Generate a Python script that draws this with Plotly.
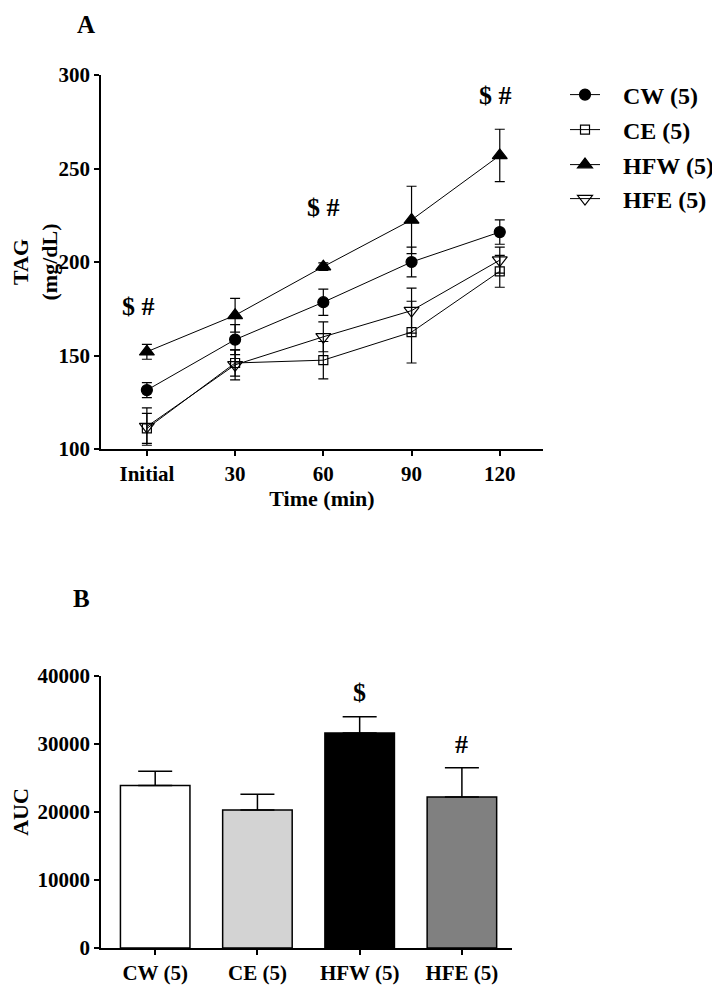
import plotly.graph_objects as go

# ---------------- Data ----------------
time_labels = ["Initial", "30", "60", "90", "120"]
x_pos = [0, 1, 2, 3, 4]

cw = [131.5, 158.5, 178.5, 200, 216]
cw_err = [4, 8, 7, 8, 6.5]
ce = [111, 146, 147.5, 162.5, 195]
ce_err = [8, 7, 10, 16.5, 8.5]
hfw = [152, 171.5, 197.5, 222.5, 257]
hfw_err = [4, 9, 2, 18, 14]
hfe = [112, 145, 160, 174, 201]
hfe_err = [10, 8, 8, 12, 7]

groups = ["CW (5)", "CE (5)", "HFW (5)", "HFE (5)"]
auc = [23900, 20300, 31600, 22200]
auc_err = [2100, 2300, 2400, 4300]
bar_colors = ["#ffffff", "#d3d3d3", "#000000", "#808080"]

sig_a_x = [-0.1, 2.0, 3.95]
sig_a_y = [176, 229, 289]
sig_a_text = ["$ #", "$ #", "$ #"]

sig_b_x = [2, 3]
sig_b_y = [37600, 30000]
sig_b_text = ["$", "#"]

FONT = "Liberation Serif"
# page body has an 8px margin; figure sized to fill the rest of the window
OFF = 8
W, H = 720 - OFF, 986 - OFF


def px(xp):
    return (xp - OFF) / W


def py(yp):
    return 1 - (yp - OFF) / H


fig = go.Figure()

series = [
    ("CW (5)", cw, cw_err, "circle", "black", 11),
    ("CE (5)", ce, ce_err, "square-open", "black", 9),
    ("HFW (5)", hfw, hfw_err, "triangle-up", "black", 13),
    ("HFE (5)", hfe, hfe_err, "triangle-down-open", "black", 13),
]
legend_names = ["legend", "legend2", "legend3", "legend4"]
for (name, ys, err, sym, col, sz), lg in zip(series, legend_names):
    fig.add_trace(go.Scatter(
        x=x_pos, y=ys, name="&nbsp;&nbsp;&nbsp;<b>%s</b>" % name,
        mode="lines+markers",
        line=dict(color="black", width=1),
        marker=dict(symbol=sym, size=sz, color=col,
                    line=dict(color="black", width=1.2)),
        error_y=dict(type="data", array=err, visible=True,
                     color="black", thickness=1.2, width=5),
        xaxis="x", yaxis="y", legend=lg,
    ))

fig.add_trace(go.Bar(
    x=[0, 1, 2, 3], y=auc, width=0.68,
    marker=dict(color=bar_colors, line=dict(color="black", width=1.5)),
    error_y=dict(type="data", array=auc_err, arrayminus=[0, 0, 0, 0],
                 symmetric=False, visible=True, color="black",
                 thickness=1.5, width=17),
    xaxis="x2", yaxis="y2", showlegend=False,
))

axis_common = dict(
    showgrid=False, zeroline=False, showline=True, linecolor="black",
    linewidth=1.5, ticks="outside", tickcolor="black", ticklen=5,
    tickwidth=1.5, automargin=False,
    tickfont=dict(family=FONT, size=21, color="black"),
)

fig.update_layout(
    width=W, height=H,
    margin=dict(l=0, r=0, t=0, b=0),
    paper_bgcolor="white", plot_bgcolor="white",
    font=dict(family=FONT, color="black"),
    xaxis=dict(domain=[px(101), px(543)], range=[-0.52, 4.49],
               tickvals=x_pos, ticktext=["<b>%s</b>" % t for t in time_labels],
               title=dict(text="<b>Time (min)</b>",
                          font=dict(family=FONT, size=22), standoff=6),
               anchor="y", **axis_common),
    yaxis=dict(domain=[py(449), py(75)], range=[100, 300],
               tickvals=[100, 150, 200, 250, 300],
               ticktext=["<b>%d</b>" % v for v in [100, 150, 200, 250, 300]],
               title=dict(text="<b>TAG<br>(mg/dL)</b>",
                          font=dict(family=FONT, size=22), standoff=8),
               anchor="x", **axis_common),
    xaxis2=dict(domain=[px(101), px(512)], range=[-0.53, 3.49],
                tickvals=[0, 1, 2, 3],
                ticktext=["<b>%s</b>" % g for g in groups],
                anchor="y2", **axis_common),
    yaxis2=dict(domain=[py(948), py(676)], range=[0, 40000],
                tickvals=[0, 10000, 20000, 30000, 40000],
                ticktext=["<b>%d</b>" % v for v in [0, 10000, 20000, 30000, 40000]],
                title=dict(text="<b>AUC</b>",
                           font=dict(family=FONT, size=22), standoff=10),
                anchor="x2", **axis_common),
)

# Legends, one per entry so spacing matches the reference
leg_rows = [95, 130, 165, 199]
for lg, row in zip(legend_names, leg_rows):
    fig.update_layout({lg: dict(
        x=px(565), y=py(row), xanchor="left", yanchor="middle",
        bgcolor="rgba(0,0,0,0)", borderwidth=0,
        font=dict(family=FONT, size=24, color="black"),
        itemwidth=30,
    )})

# Significance markers
for xv, yv, t in zip(sig_a_x, sig_a_y, sig_a_text):
    fig.add_annotation(x=xv, y=yv, xref="x", yref="y", text="<b>%s</b>" % t,
                       showarrow=False, xanchor="center", yanchor="middle",
                       font=dict(family=FONT, size=26))
for xv, yv, t in zip(sig_b_x, sig_b_y, sig_b_text):
    fig.add_annotation(x=xv, y=yv, xref="x2", yref="y2", text="<b>%s</b>" % t,
                       showarrow=False, xanchor="center", yanchor="middle",
                       font=dict(family=FONT, size=26))

# Panel labels
fig.add_annotation(x=px(86), y=py(25), xref="paper", yref="paper",
                   text="<b>A</b>", showarrow=False,
                   xanchor="center", yanchor="middle",
                   font=dict(family=FONT, size=25))
fig.add_annotation(x=px(81), y=py(598), xref="paper", yref="paper",
                   text="<b>B</b>", showarrow=False,
                   xanchor="center", yanchor="middle",
                   font=dict(family=FONT, size=25))

fig.write_html("out.html")
